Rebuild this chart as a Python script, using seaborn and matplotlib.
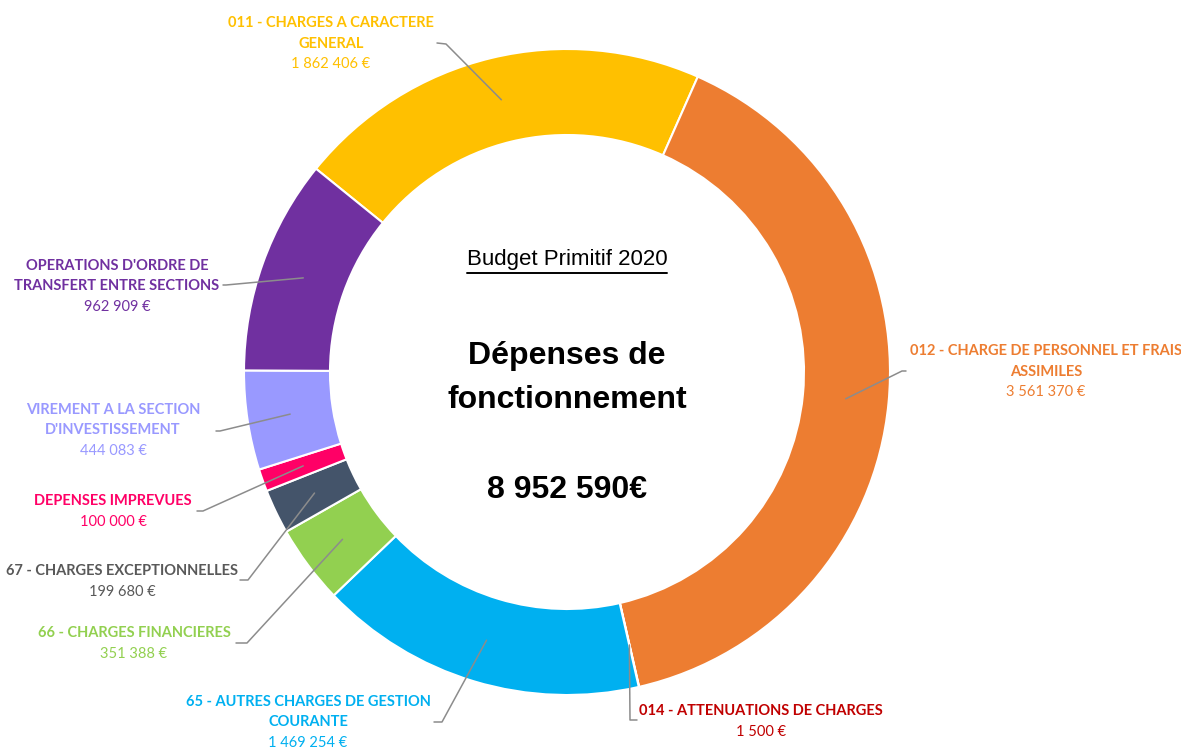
import numpy as np
import matplotlib
matplotlib.use("Agg")
import matplotlib.pyplot as plt
import seaborn as sns

# données du budget (dépenses de fonctionnement)
titles = [
    ["011 - CHARGES A CARACTERE", "GENERAL"],
    ["012 - CHARGE DE PERSONNEL ET FRAIS", "ASSIMILES"],
    ["014 - ATTENUATIONS DE CHARGES"],
    ["65 - AUTRES CHARGES DE GESTION", "COURANTE"],
    ["66 - CHARGES FINANCIERES"],
    ["67 - CHARGES EXCEPTIONNELLES"],
    ["DEPENSES IMPREVUES"],
    ["VIREMENT A LA SECTION", "D'INVESTISSEMENT"],
    ["OPERATIONS D'ORDRE DE", "TRANSFERT ENTRE SECTIONS"],
]
values = [1862406, 3561370, 1500, 1469254, 351388, 199680, 100000, 444083, 962909]
slice_colors = ["#FFC000", "#ED7D31", "#C00000", "#00B0F0", "#92D050",
                "#44546A", "#FF0066", "#9999FF", "#7030A0"]
text_colors = ["#FFC000", "#ED7D31", "#C00000", "#00B0F0", "#92D050",
               "#595959", "#FF0066", "#9999FF", "#7030A0"]
total = sum(values)

# mise en page (pixels)
label_pos = [(331, 23), (1046, 351), (761, 711), (308, 702), (134, 633),
             (122, 571), (113, 501), (113, 410), (117, 266)]
leader_tail = [[(446, 44), (437, 43)], [(902, 371), (906, 371)],
               [(630, 720), (637, 720)], [(442, 722), (434, 722)],
               [(247, 643), (236, 643)], [(248, 580), (240, 580)],
               [(203, 511), (197, 511)], [(220, 431), (216, 431)],
               [(226, 285), (223, 285)]]

sns.set_theme(style="white")
plt.rcParams["font.family"] = ["Lato", "DejaVu Sans"]

W, H = 1181, 751
cx, cy, r_out, r_in = 567, 372, 323, 237

fig = plt.figure(figsize=(W / 100, H / 100), dpi=100)
ax = fig.add_axes([0, 0, 1, 1])

wedges, _ = ax.pie(values, colors=slice_colors, startangle=-141, counterclock=True,
                   radius=r_out, center=(cx, cy),
                   wedgeprops=dict(width=r_out - r_in, edgecolor="white", linewidth=1.5))
ax.set_xlim(0, W)
ax.set_ylim(H, 0)
ax.set_aspect("equal")
ax.axis("off")

def fmt(v):
    return f"{v:,}".replace(",", " ")

r_mid = (r_out + r_in) / 2
for w, tl, (lx, ly), tail, tc in zip(wedges, titles, label_pos, leader_tail, text_colors):
    ang = np.deg2rad((w.theta1 + w.theta2) / 2)
    ax_pt = (cx + r_mid * np.cos(ang), cy + r_mid * np.sin(ang))
    xs = [ax_pt[0]] + [p[0] for p in tail]
    ys = [ax_pt[1]] + [p[1] for p in tail]
    ax.plot(xs, ys, color="#8C8C8C", lw=1.1, zorder=5)
    for i, t in enumerate(tl):
        ax.text(lx, ly + i * 20.5, t, ha="center", va="center", color=tc,
                fontsize=10.5, fontweight="bold")
    ax.text(lx, ly + len(tl) * 20.5, fmt(values[titles.index(tl)]) + " €",
            ha="center", va="center", color=tc, fontsize=10.5)

# texte central
bt = ax.text(cx, 259, "Budget Primitif 2020", ha="center", va="center",
             fontsize=16, family="Liberation Sans", color="black")
ax.text(cx, 378, "Dépenses de\nfonctionnement", ha="center", va="center",
        fontsize=23, fontweight="bold", family="Liberation Sans",
        linespacing=1.6, color="black")
ax.text(cx, 490, fmt(total) + "€", ha="center", va="center",
        fontsize=23, fontweight="bold", family="Liberation Sans", color="black")

fig.canvas.draw()
bb = bt.get_window_extent().transformed(ax.transData.inverted())
ax.plot([bb.x0, bb.x1], [273, 273], color="black", lw=1.4)

fig.savefig("out.png", dpi=100, facecolor="white")
